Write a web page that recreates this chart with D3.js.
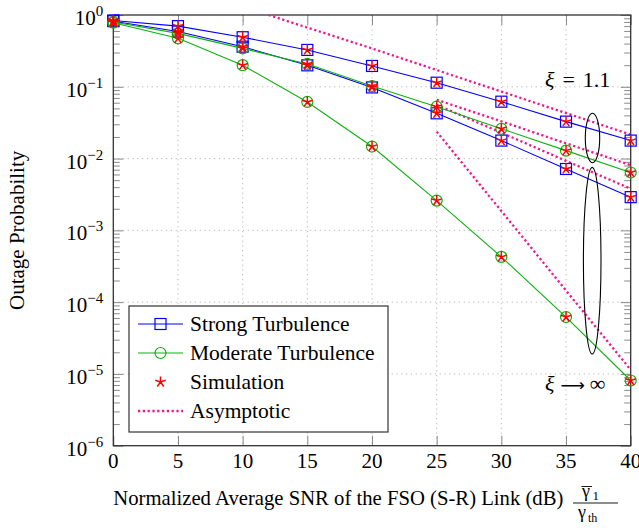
<!DOCTYPE html>
<html>
<head>
<meta charset="utf-8">
<script src="https://cdn.jsdelivr.net/npm/d3@7"></script>
<style>
	body { margin: 0; background: #fff; }
</style>
</head>
<body>
<script>
// normalized average SNR (dB)
const snrDb = [0, 5, 10, 15, 20, 25, 30, 35, 40];

// outage probability
const strongXi11 = [0.84, 0.70, 0.49, 0.326, 0.195, 0.114, 0.062, 0.0327, 0.0178];
const strongXiInf = [0.82, 0.59, 0.362, 0.199, 0.098, 0.0427, 0.0178, 0.00716, 0.0029];
const moderateXi11 = [0.80, 0.555, 0.343, 0.208, 0.1025, 0.0528, 0.026, 0.0129, 0.0064];
const moderateXiInf = [0.78, 0.473, 0.20, 0.0615, 0.0147, 0.0026, 0.000427, 0.000062, 0.0000081];

// asymptotic curves
const asymStrong11X = [12, 20, 25, 30, 35, 40];
const asymStrong11 = [1.0, 0.342, 0.171, 0.0859, 0.043, 0.0216];
const asymModerate11X = [25, 30, 35, 40];
const asymModerate11 = [0.066, 0.033, 0.0163, 0.0081];
const asymStrongInfX = [25, 30, 35, 40];
const asymStrongInf = [0.056, 0.0229, 0.0093, 0.0038];
const asymModerateInfX = [25, 30, 35, 40];
const asymModerateInf = [0.0237, 0.00186, 0.000145, 0.0000114];

const xTicks = [0, 5, 10, 15, 20, 25, 30, 35, 40];
const yExponents = [0, -1, -2, -3, -4, -5, -6];

const legendLabels = ["Strong Turbulence", "Moderate Turbulence", "Simulation", "Asymptotic"];

const width = 639, height = 531;
const margin = { top: 15, right: 8.3, bottom: 85.3, left: 113.3 };

const blue = "#0000ff", green = "#10b010", red = "#ff0000", pink = "#f0168c";
const serif = "'Liberation Serif', 'Times New Roman', Times, serif";

const x = d3.scaleLinear()
	.domain([0, 40])
	.range([margin.left, width - margin.right]);

const y = d3.scaleLog()
	.domain([1e-6, 1])
	.range([height - margin.bottom, margin.top]);

const svg = d3.select("body").append("svg")
	.attr("width", width)
	.attr("height", height)
	.attr("font-family", serif);

// grid
const minorY = y.ticks().filter(v => Math.abs(Math.log10(v) - Math.round(Math.log10(v))) > 1e-6);
const majorY = yExponents.map(e => Math.pow(10, e));

svg.append("g")
	.selectAll("line")
	.data(xTicks.slice(1, -1))
	.join("line")
	.attr("stroke", "#b8b8b8")
	.attr("stroke-dasharray", "1.2,3.6")
	.attr("x1", d => x(d)).attr("x2", d => x(d))
	.attr("y1", y(1)).attr("y2", y(1e-6));

svg.append("g")
	.selectAll("line")
	.data(majorY.slice(1, -1))
	.join("line")
	.attr("stroke", "#b8b8b8")
	.attr("stroke-dasharray", "1.2,3.6")
	.attr("x1", x(0)).attr("x2", x(40))
	.attr("y1", d => y(d)).attr("y2", d => y(d));

// ticks, inward on all four sides
const tickColor = "#8a8a8a";
const sides = [
	{ axis: d3.axisBottom(x).tickValues(xTicks).tickSize(-10), t: `translate(0,${y(1e-6)})` },
	{ axis: d3.axisTop(x).tickValues(xTicks).tickSize(-10), t: `translate(0,${y(1)})` },
	{ axis: d3.axisLeft(y).tickValues(majorY).tickSize(-10), t: `translate(${x(0)},0)` },
	{ axis: d3.axisRight(y).tickValues(majorY).tickSize(-10), t: `translate(${x(40)},0)` },
	{ axis: d3.axisLeft(y).tickValues(minorY).tickSize(-6.5), t: `translate(${x(0)},0)` },
	{ axis: d3.axisRight(y).tickValues(minorY).tickSize(-6.5), t: `translate(${x(40)},0)` }
];
sides.forEach(s => {
	svg.append("g")
		.attr("transform", s.t)
		.call(s.axis.tickFormat(""))
		.call(g => g.select(".domain").remove())
		.call(g => g.selectAll(".tick line").attr("stroke", tickColor).attr("stroke-width", 1));
});

// frame
svg.append("rect")
	.attr("x", x(0))
	.attr("y", y(1))
	.attr("width", x(40) - x(0))
	.attr("height", y(1e-6) - y(1))
	.attr("fill", "none")
	.attr("stroke", "#333")
	.attr("stroke-width", 1.3);

// tick labels
svg.append("g")
	.selectAll("text")
	.data(xTicks)
	.join("text")
	.attr("x", d => x(d))
	.attr("y", y(1e-6) + 22.5)
	.attr("text-anchor", "middle")
	.attr("font-size", 21)
	.text(d => d);

const yl = svg.append("g")
	.selectAll("text")
	.data(yExponents)
	.join("text")
	.attr("x", x(0) - 10)
	.attr("y", d => y(Math.pow(10, d)) + 10)
	.attr("text-anchor", "end")
	.attr("font-size", 21);
yl.append("tspan").text("10");
yl.append("tspan")
	.attr("font-size", 15)
	.attr("dy", -9)
	.text(d => d === 0 ? "0" : "\u2212" + (-d));

// axis labels
svg.append("text")
	.attr("transform", `translate(24,${(y(1) + y(1e-6)) / 2}) rotate(-90)`)
	.attr("text-anchor", "middle")
	.attr("font-size", 21)
	.text("Outage Probability");

svg.append("text")
	.attr("x", x(0))
	.attr("y", 505)
	.attr("font-size", 20.7)
	.text("Normalized Average SNR of the FSO (S-R) Link (dB)");

// fraction  gamma-bar_1 / gamma_th
const fr = svg.append("g").attr("transform", "translate(573,503)");
fr.append("line")
	.attr("stroke", "#000").attr("stroke-width", 0.9)
	.attr("x1", 0).attr("x2", 45).attr("y1", 0).attr("y2", 0);
fr.append("text")
	.attr("x", 9).attr("y", -6)
	.attr("font-size", 18)
	.text("\u03b3");
fr.append("line")
	.attr("stroke", "#000").attr("stroke-width", 0.9)
	.attr("x1", 8.5).attr("x2", 19).attr("y1", -16.5).attr("y2", -16.5);
fr.append("text")
	.attr("x", 19.5).attr("y", -3)
	.attr("font-size", 13)
	.text("1");
fr.append("text")
	.attr("x", 5).attr("y", 15)
	.attr("font-size", 18)
	.text("\u03b3");
fr.append("text")
	.attr("x", 15).attr("y", 19)
	.attr("font-size", 12)
	.text("th");

// asymptotic lines
const asym = [
	[asymStrong11X, asymStrong11],
	[asymModerate11X, asymModerate11],
	[asymStrongInfX, asymStrongInf],
	[asymModerateInfX, asymModerateInf]
];
const line = d3.line().x(d => x(d[0])).y(d => y(d[1]));

svg.append("defs").append("clipPath").attr("id", "clip")
	.append("rect")
	.attr("x", x(0)).attr("y", y(1))
	.attr("width", x(40) - x(0)).attr("height", y(1e-6) - y(1));

svg.append("g")
	.attr("clip-path", "url(#clip)")
	.selectAll("path")
	.data(asym)
	.join("path")
	.attr("fill", "none")
	.attr("stroke", pink)
	.attr("stroke-width", 2.3)
	.attr("stroke-dasharray", "2.2,2.6")
	.attr("d", d => line(d[0].map((v, i) => [v, d[1][i]])));

// curves
const series = [
	{ values: strongXi11, colour: blue, mark: "square" },
	{ values: strongXiInf, colour: blue, mark: "square" },
	{ values: moderateXi11, colour: green, mark: "circle" },
	{ values: moderateXiInf, colour: green, mark: "circle" }
];

const star = r => d3.range(5).map(k => {
	const a = -Math.PI / 2 + k * 2 * Math.PI / 5;
	return `M0,0L${(r * Math.cos(a)).toFixed(2)},${(r * Math.sin(a)).toFixed(2)}`;
}).join("");

function drawMark(g, mark, colour) {
	if (mark === "square") {
		g.append("rect")
			.attr("x", -5.5).attr("y", -5.5)
			.attr("width", 11).attr("height", 11)
			.attr("fill", "none")
			.attr("stroke", colour)
			.attr("stroke-width", 1.2);
	} else if (mark === "circle") {
		g.append("circle")
			.attr("r", 5.5)
			.attr("fill", "none")
			.attr("stroke", colour)
			.attr("stroke-width", 1.2);
	} else {
		g.append("path")
			.attr("d", star(5.5))
			.attr("stroke", colour)
			.attr("stroke-width", 1.5)
			.attr("fill", "none");
	}
}

series.forEach(s => {
	const pts = snrDb.map((v, i) => [v, s.values[i]]);
	svg.append("path")
		.attr("fill", "none")
		.attr("stroke", s.colour)
		.attr("stroke-width", 1.1)
		.attr("d", line(pts));
	svg.append("g")
		.selectAll("g")
		.data(pts)
		.join("g")
		.attr("transform", d => `translate(${x(d[0])},${y(d[1])})`)
		.each(function() { drawMark(d3.select(this), s.mark, s.colour); });
});

// simulation stars
series.forEach(s => {
	svg.append("g")
		.selectAll("g")
		.data(snrDb.map((v, i) => [v, s.values[i]]))
		.join("g")
		.attr("transform", d => `translate(${x(d[0])},${y(d[1])})`)
		.each(function() { drawMark(d3.select(this), "star", red); });
});

// ellipses and annotations
svg.append("ellipse")
	.attr("cx", 592.5).attr("cy", 138)
	.attr("rx", 7.2).attr("ry", 24.7)
	.attr("fill", "none").attr("stroke", "#000").attr("stroke-width", 1.1);
svg.append("ellipse")
	.attr("cx", 592.2).attr("cy", 260.7)
	.attr("rx", 8.8).attr("ry", 93.3)
	.attr("fill", "none").attr("stroke", "#000").attr("stroke-width", 1.1);

const ann1 = svg.append("text").attr("x", 545).attr("y", 87).attr("font-size", 22);
ann1.append("tspan").attr("font-style", "italic").text("\u03be");
ann1.append("tspan").attr("dx", 8).text("=");
ann1.append("tspan").attr("dx", 8).text("1.1");

const ann2 = svg.append("text").attr("x", 545).attr("y", 391).attr("font-size", 22);
ann2.append("tspan").attr("font-style", "italic").text("\u03be");
ann2.append("tspan").attr("dx", 6).attr("font-family", "'DejaVu Sans'").attr("font-size", 17).text("\u27f6");
ann2.append("tspan").attr("dx", 5).text("\u221e");

// legend
const lg = svg.append("g").attr("transform", "translate(129,306)");
lg.append("rect")
	.attr("width", 259).attr("height", 126)
	.attr("fill", "#fff")
	.attr("stroke", "#333")
	.attr("stroke-width", 1.2);

const legendItems = [
	{ label: legendLabels[0], colour: blue, mark: "square", line: true },
	{ label: legendLabels[1], colour: green, mark: "circle", line: true },
	{ label: legendLabels[2], colour: red, mark: "star", line: false },
	{ label: legendLabels[3], colour: pink, mark: null, line: true }
];

const rows = lg.selectAll("g.legend")
	.data(legendItems)
	.join("g")
	.attr("class", "legend")
	.attr("transform", (d, i) => `translate(0,${18 + i * 29})`);

rows.filter(d => d.line)
	.append("line")
	.attr("x1", 9).attr("x2", 54)
	.attr("stroke", d => d.colour)
	.attr("stroke-width", d => d.mark ? 1.1 : 2.3)
	.attr("stroke-dasharray", d => d.mark ? null : "2.2,2.6");

rows.filter(d => d.mark)
	.append("g")
	.attr("transform", "translate(31.5,0)")
	.each(function(d) { drawMark(d3.select(this), d.mark, d.colour); });

rows.append("text")
	.attr("x", 61)
	.attr("dy", "0.33em")
	.attr("font-size", 21.5)
	.text(d => d.label);
</script>
</body>
</html>
